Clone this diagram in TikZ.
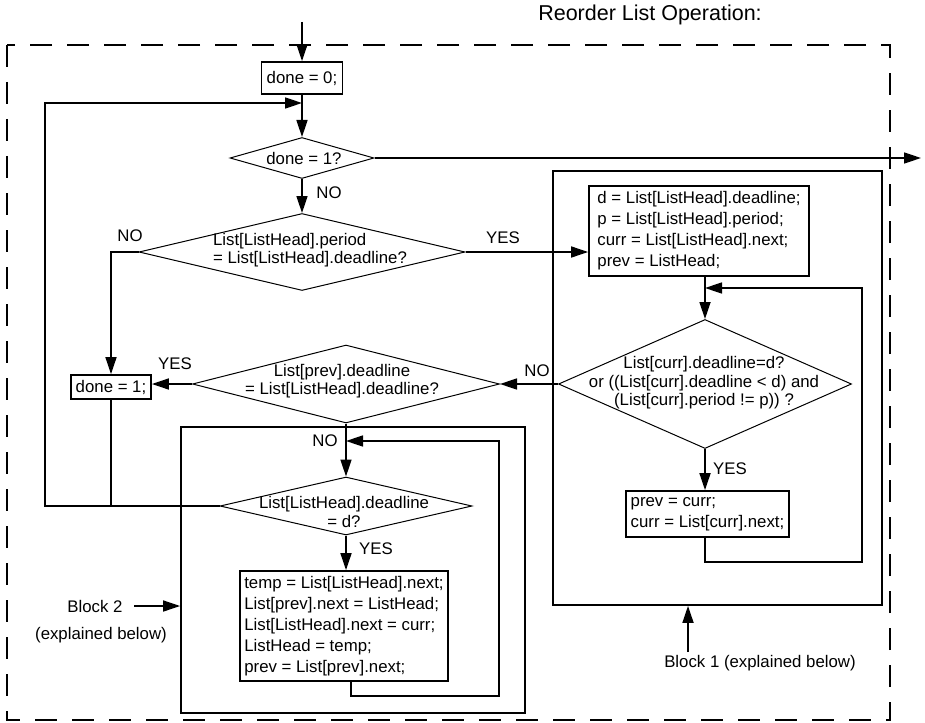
\documentclass[tikz,border=0pt]{standalone}
\usepackage{fontspec}
\setmainfont{Liberation Sans}
\usetikzlibrary{shapes.geometric,arrows.meta}
\begin{document}
\begin{tikzpicture}[x=1pt,y=-1pt,
  txt/.style={font=\fontsize{16.8}{21}\selectfont, inner sep=0pt},
  box/.style={draw, line width=1.8pt, inner sep=0pt, align=left, font=\fontsize{16.8}{21}\selectfont},
  dia/.style={draw, diamond, line width=1pt, inner sep=0pt},
  dtxt/.style={font=\fontsize{16.8}{18.5}\selectfont, align=center, inner sep=0pt},
  blk/.style={draw, line width=1.8pt, inner sep=0pt},
  conn/.style={line width=1.7pt},
  arr/.style={line width=1.7pt, -{Triangle[length=17pt,width=11pt]}},
]
\useasboundingbox (0,0) rectangle (925,722);

\node[txt, font=\fontsize{21.5}{24}\selectfont] (title) at (650,15) {Reorder List Operation:};
\draw[line width=1.8pt, dash pattern=on 22pt off 15pt] (7,45) rectangle (890,720);

% blocks
\node[blk, minimum width=329pt, minimum height=434pt] (blk1) at (717.5,388) {};
\node[blk, minimum width=344pt, minimum height=286pt] (blk2) at (353,570) {};

% boxes
\node[box, minimum width=81pt, minimum height=32pt] (b0) at (302,78) {done = 0;};
\node[box, minimum width=80pt, minimum height=24pt] (b1) at (111,387) {done = 1;};
\node[box, minimum width=220pt, minimum height=90pt] (bd) at (699,231) {d = List[ListHead].deadline;\\p = List[ListHead].period;\\curr = List[ListHead].next;\\prev = ListHead;};
\node[box, minimum width=163pt, minimum height=46pt] (bp) at (707.5,514) {prev = curr;\\curr = List[curr].next;};
\node[box, minimum width=208pt, minimum height=110pt] (bt) at (344,626) {temp = List[ListHead].next;\\List[prev].next = ListHead;\\List[ListHead].next = curr;\\ListHead = temp;\\prev = List[prev].next;};

% diamonds
\node[dia, minimum width=144pt, minimum height=41pt] (d1) at (302,158) {};
\node[dtxt] (t1) at (304,158) {done = 1?};
\node[dia, minimum width=326pt, minimum height=77pt] (d2) at (302,252) {};
\node[dtxt, align=left] (t2) at (310,250) {List[ListHead].period\\= List[ListHead].deadline?};
\node[dia, minimum width=293pt, minimum height=129pt] (d3) at (705,384) {};
\node[dtxt] (t3) at (704,383) {List[curr].deadline=d?\\or ((List[curr].deadline < d) and\\(List[curr].period != p)) ?};
\node[dia, minimum width=307pt, minimum height=78pt] (d4) at (346,384) {};
\node[dtxt] (t4) at (342,381) {List[prev].deadline\\= List[ListHead].deadline?};
\node[dia, minimum width=252pt, minimum height=58pt] (d5) at (346,506) {};
\node[dtxt] (t5) at (344,512) {List[ListHead].deadline\\= d?};

% coordinates
\coordinate (in) at (302,22);
\coordinate (out) at (921,158);
\coordinate (j1) at (302,103);
\coordinate (lL1) at (45,506);
\coordinate (lL2) at (45,103);
\coordinate (l1j) at (705,288);
\coordinate (l1a) at (862,562);
\coordinate (l2j) at (346,441);
\coordinate (l2a) at (499,696);
\coordinate (b2s) at (134,606);
\coordinate (b1s) at (688,652);

% connectors
\draw[arr] (in) -- (b0.north);
\draw[arr] (b0.south) -- (d1.north);
\draw[arr] (d1.east) -- (out);
\draw[arr] (d1.south) -- (d2.north);
\draw[arr] (d2.west) -| (b1.north);
\draw[arr] (d2.east) -- (d2.east -| bd.west);
\draw[arr] (d3.north |- bd.south) -- (d3.north);
\draw[arr] (d3.south) -- (d3.south |- bp.north);
\draw[arr] (bp.south -| l1j) |- (l1a) -- (l1a |- l1j) -- (l1j);
\draw[arr] (d3.west) -- (d4.east);
\draw[arr] (d4.west) -- (d4.west -| b1.east);
\draw[arr] (d4.south) -- (d5.north);
\draw[arr] ([xshift=7pt]bt.south) |- (l2a) -- (l2a |- l2j) -- (l2j);
\draw[arr] (d5.south) -- (d5.south |- bt.north);
\draw[arr] (d5.west) -- (lL1) -- (lL2) -- (j1);
\draw[conn] (b1.south) -- (b1.south |- lL1);
\draw[arr] (b2s) -- (blk2.west |- b2s);
\draw[arr] (b1s) -- (b1s |- blk1.south);

% labels
\node[txt] (lno1) at (329,193) {NO};
\node[txt] (lno2) at (130,236) {NO};
\node[txt] (lyes1) at (503,238) {YES};
\node[txt] (lyes2) at (730,469) {YES};
\node[txt] (lno3) at (537,371) {NO};
\node[txt] (lyes3) at (175,364) {YES};
\node[txt] (lno4) at (325,441) {NO};
\node[txt] (lyes4) at (376,549) {YES};
\node[txt] (lb2) at (95,606) {Block 2};
\node[txt] (lb2e) at (101,635) {(explained below)};
\node[txt] (lb1) at (760,663) {Block 1 (explained below)};
\end{tikzpicture}
\end{document}
